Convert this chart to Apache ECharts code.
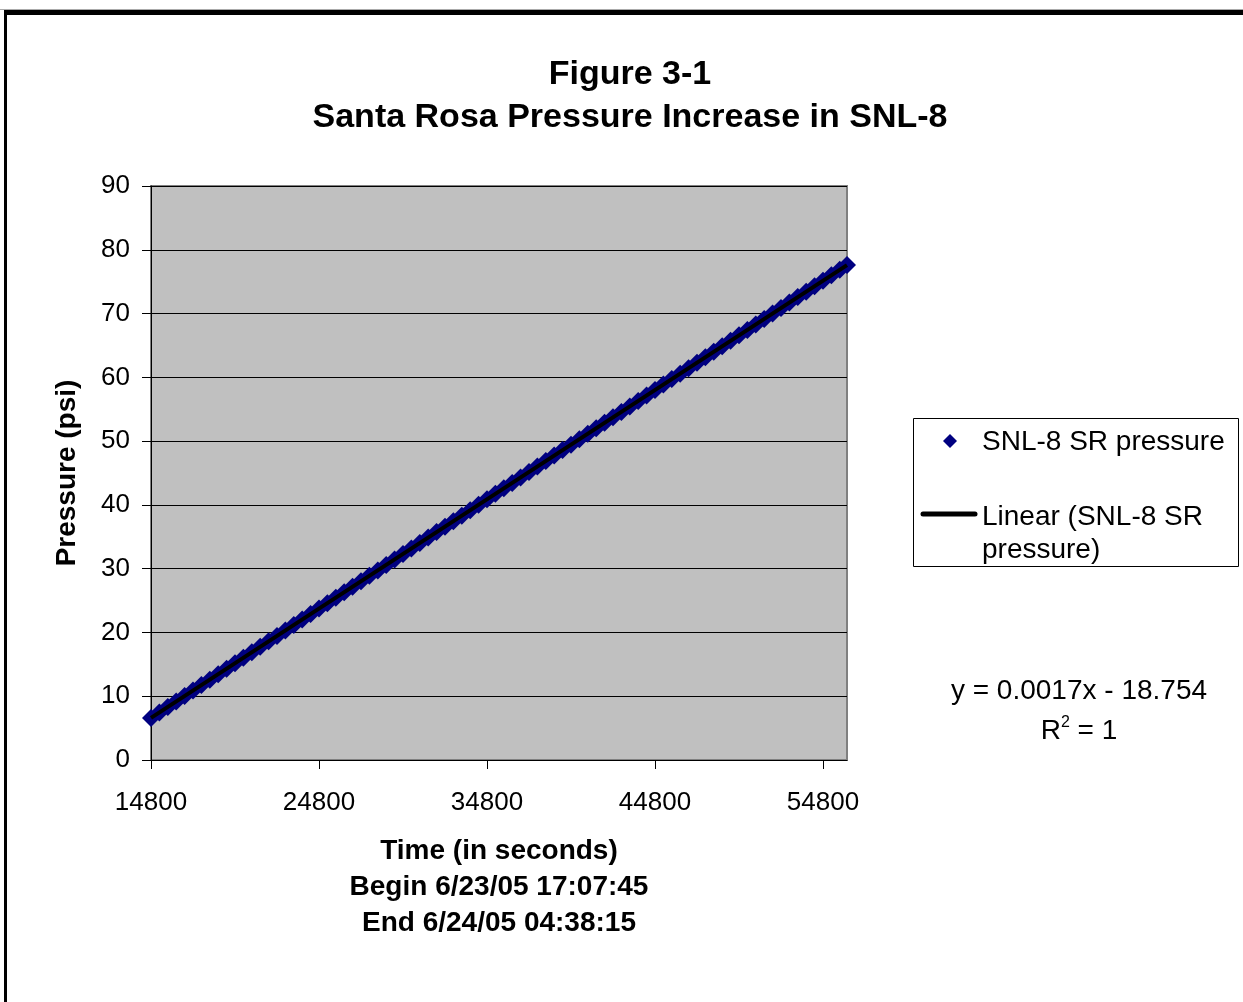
<!DOCTYPE html>
<html>
<head>
<meta charset="utf-8">
<script src="https://cdn.jsdelivr.net/npm/echarts@6/dist/echarts.min.js"></script>
<style>
  html, body { margin: 0; padding: 0; background: #fff; }
  #box1 { width: 1243px; height: 1002px; }
</style>
</head>
<body>
<div id="box1"></div>
<script>
var timeSec = [
  14800, 15300, 15800, 16300, 16800, 17300, 17800, 18300, 18800, 19300,
  19800, 20300, 20800, 21300, 21800, 22300, 22800, 23300, 23800, 24300,
  24800, 25300, 25800, 26300, 26800, 27300, 27800, 28300, 28800, 29300,
  29800, 30300, 30800, 31300, 31800, 32300, 32800, 33300, 33800, 34300,
  34800, 35300, 35800, 36300, 36800, 37300, 37800, 38300, 38800, 39300,
  39800, 40300, 40800, 41300, 41800, 42300, 42800, 43300, 43800, 44300,
  44800, 45300, 45800, 46300, 46800, 47300, 47800, 48300, 48800, 49300,
  49800, 50300, 50800, 51300, 51800, 52300, 52800, 53300, 53800, 54300,
  54800, 55300, 55800, 56230
];
var pressurePsi = [
  6.60, 7.46, 8.31, 9.17, 10.03, 10.88, 11.74, 12.60, 13.45, 14.31,
  15.17, 16.03, 16.88, 17.74, 18.60, 19.45, 20.31, 21.17, 22.02, 22.88,
  23.74, 24.59, 25.45, 26.31, 27.16, 28.02, 28.88, 29.73, 30.59, 31.45,
  32.31, 33.16, 34.02, 34.88, 35.73, 36.59, 37.45, 38.30, 39.16, 40.02,
  40.87, 41.73, 42.59, 43.44, 44.30, 45.16, 46.02, 46.87, 47.73, 48.59,
  49.44, 50.30, 51.16, 52.01, 52.87, 53.73, 54.58, 55.44, 56.30, 57.15,
  58.01, 58.87, 59.72, 60.58, 61.44, 62.30, 63.15, 64.01, 64.87, 65.72,
  66.58, 67.44, 68.29, 69.15, 70.01, 70.86, 71.72, 72.58, 73.43, 74.29,
  75.15, 76.01, 76.86, 77.60
];
// linear trendline end points
var trendTime = [14800, 56230];
var trendPsi = [6.6, 77.6];
var xTicks = [14800, 24800, 34800, 44800, 54800];

var dom = document.getElementById("box1");
var myChart = echarts.init(dom);
var font = 'Liberation Sans, Arial, sans-serif';

var points = timeSec.map(function (t, i) { return [t, pressurePsi[i]]; });
var trend = trendTime.map(function (t, i) { return [t, trendPsi[i]]; });

var option = {
  backgroundColor: '#fff',
  animation: false,
  textStyle: { fontFamily: font, color: '#000' },
  title: {
    text: 'Figure 3-1\nSanta Rosa Pressure Increase in SNL-8',
    left: 630,
    top: 53,
    padding: 0,
    textAlign: 'center',
    textStyle: { fontSize: 34, fontWeight: 'bold', color: '#000', lineHeight: 43, fontFamily: font }
  },
  grid: {
    left: 151, top: 186, width: 696, height: 574,
    show: true,
    backgroundColor: '#c0c0c0',
    borderColor: '#808080',
    borderWidth: 2
  },
  xAxis: {
    type: 'value',
    min: 14800,
    max: 56230,
    name: 'Time (in seconds)\nBegin 6/23/05 17:07:45\nEnd 6/24/05 04:38:15',
    nameLocation: 'middle',
    nameGap: 73,
    nameTextStyle: { fontSize: 28, fontWeight: 'bold', color: '#000', lineHeight: 36, fontFamily: font },
    axisLine: { lineStyle: { color: '#000', width: 1 } },
    axisTick: { customValues: xTicks, length: 9, lineStyle: { color: '#000' } },
    axisLabel: {
      customValues: xTicks, fontSize: 26, color: '#000', margin: 30, fontFamily: font,
      formatter: function (v) { return String(v); }
    },
    splitLine: { show: false }
  },
  yAxis: {
    type: 'value',
    min: 0,
    max: 90,
    interval: 10,
    name: 'Pressure (psi)',
    nameLocation: 'middle',
    nameGap: 70,
    nameTextStyle: { fontSize: 28, fontWeight: 'bold', color: '#000', fontFamily: font },
    axisLine: { show: true, lineStyle: { color: '#000', width: 1 } },
    axisTick: { show: true, length: 9, lineStyle: { color: '#000' } },
    axisLabel: { fontSize: 26, color: '#000', margin: 21, fontFamily: font },
    splitLine: { show: true, lineStyle: { color: '#000', width: 1 } }
  },
  series: [
    {
      name: 'SNL-8 SR pressure',
      type: 'scatter',
      symbol: 'diamond',
      symbolSize: 18,
      clip: false,
      itemStyle: { color: '#000080', opacity: 1 },
      data: points,
      z: 2
    },
    {
      name: 'Linear (SNL-8 SR pressure)',
      type: 'line',
      showSymbol: false,
      symbol: 'none',
      lineStyle: { color: '#000', width: 4 },
      data: trend,
      z: 3
    }
  ],
  graphic: [
    // outer frame
    { type: 'rect', shape: { x: 0, y: 9, width: 1243, height: 1 }, style: { fill: '#aaaaaa' }, silent: true },
    { type: 'rect', shape: { x: 4, y: 10, width: 1239, height: 5 }, style: { fill: '#000' }, silent: true },
    { type: 'rect', shape: { x: 4, y: 10, width: 3, height: 992 }, style: { fill: '#000' }, silent: true },
    // legend box
    { type: 'rect', shape: { x: 913.5, y: 418.5, width: 325, height: 148 }, style: { fill: '#fff', stroke: '#000', lineWidth: 1 }, silent: true },
    { type: 'polygon', shape: { points: [[950, 434], [957, 441], [950, 448], [943, 441]] }, style: { fill: '#000080' }, silent: true },
    { type: 'text', x: 982, y: 442, style: { text: 'SNL-8 SR pressure', font: '28px ' + font, fill: '#000', verticalAlign: 'middle', align: 'left' }, silent: true },
    { type: 'line', shape: { x1: 923, y1: 514, x2: 975, y2: 514 }, style: { stroke: '#000', lineWidth: 5, lineCap: 'round' }, silent: true },
    { type: 'text', x: 982, y: 501, style: { text: 'Linear (SNL-8 SR\npressure)', font: '28px ' + font, lineHeight: 33, fill: '#000', verticalAlign: 'top', align: 'left' }, silent: true },
    // trendline equation
    {
      type: 'text', x: 1079, y: 671,
      style: {
        text: '{a|y = 0.0017x - 18.754}\n{a|R}{s|2}{a| = 1}',
        align: 'center',
        verticalAlign: 'top',
        fill: '#000',
        rich: {
          a: { fontSize: 28, fontFamily: font, lineHeight: 40, color: '#000' },
          s: { fontSize: 16, fontFamily: font, lineHeight: 40, verticalAlign: 'top', padding: [4, 0, 0, 0], color: '#000' }
        }
      },
      silent: true
    }
  ]
};

if (option && typeof option === 'object') {
  myChart.setOption(option);
}
</script>
</body>
</html>
